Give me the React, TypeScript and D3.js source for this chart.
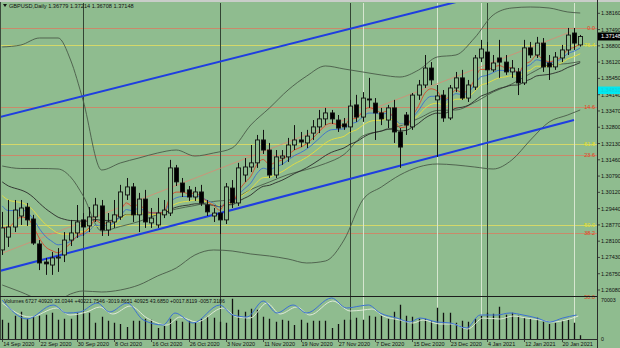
import React from "react";
import * as d3 from "d3";

const W = 620;
const H = 348;

// ---------- DATA ----------
const opens = [
  1.2783, 1.2839, 1.2883, 1.2931, 1.297, 1.2918, 1.2809, 1.273, 1.2717, 1.2748,
  1.2761, 1.2826, 1.2857, 1.2914, 1.2888, 1.2927, 1.2975, 1.287, 1.2905, 1.2927,
  1.3023, 1.3058, 1.2936, 1.3005, 1.2901, 1.2892, 1.2936, 1.2944, 1.3141, 1.3075,
  1.3045, 1.3014, 1.3036, 1.2979, 1.2931, 1.2944, 1.2914, 1.3053, 1.2988, 1.311,
  1.3145, 1.3163, 1.3263, 1.3219, 1.311, 1.3184, 1.3189, 1.3241, 1.3263, 1.325,
  1.3293, 1.332, 1.3355, 1.3381, 1.335, 1.3333, 1.332, 1.3416, 1.3363, 1.3442,
  1.3424, 1.3381, 1.335, 1.3403, 1.3298, 1.3372, 1.332, 1.3459, 1.3503, 1.3577,
  1.3438, 1.3459, 1.3359, 1.349, 1.3534, 1.3446, 1.3494, 1.3621, 1.3647, 1.3569,
  1.3621, 1.3603, 1.356, 1.356, 1.3512, 1.3665, 1.3634, 1.3686, 1.3599, 1.3582,
  1.3621, 1.3656, 1.373, 1.36779,
];
const highs = [
  1.2949, 1.3001, 1.3001, 1.3001, 1.2988, 1.2936, 1.2826, 1.2748, 1.2774, 1.2791,
  1.2861, 1.2914, 1.2979, 1.2944, 1.297, 1.301, 1.3001, 1.2944, 1.3001, 1.3067,
  1.3097, 1.3075, 1.3032, 1.3045, 1.2966, 1.301, 1.3001, 1.3176, 1.3154, 1.3097,
  1.3062, 1.3058, 1.3067, 1.3001, 1.2966, 1.2979, 1.3075, 1.3088, 1.3163, 1.3184,
  1.3241, 1.3285, 1.3307, 1.325, 1.3219, 1.3219, 1.3272, 1.3328, 1.3298, 1.3307,
  1.335, 1.3394, 1.3403, 1.3394, 1.3372, 1.3359, 1.3438, 1.346, 1.3472, 1.3534,
  1.3446, 1.3403, 1.3416, 1.3438, 1.3315, 1.3385, 1.3468, 1.3525, 1.3634, 1.3603,
  1.3503, 1.3481, 1.3503, 1.356, 1.3569, 1.3525, 1.3634, 1.37, 1.3691, 1.3634,
  1.37, 1.3634, 1.3612, 1.3577, 1.37, 1.3691, 1.3713, 1.3708, 1.3634, 1.3647,
  1.3678, 1.3752, 1.3752, 1.37214,
];
const lows = [
  1.2761, 1.2796, 1.2861, 1.2892, 1.2888, 1.2805, 1.2695, 1.2674, 1.2674, 1.2687,
  1.273, 1.28, 1.2835, 1.2844, 1.2861, 1.2905, 1.2844, 1.2844, 1.2879, 1.2914,
  1.3001, 1.2905, 1.2861, 1.2879, 1.2879, 1.2879, 1.2922, 1.2931, 1.3062, 1.3014,
  1.2997, 1.2997, 1.2975, 1.2931, 1.2905, 1.2853, 1.2896, 1.2966, 1.2975, 1.308,
  1.3123, 1.3141, 1.3202, 1.3097, 1.3097, 1.3154, 1.3167, 1.3219, 1.3232, 1.3228,
  1.3263, 1.3293, 1.3328, 1.3333, 1.3298, 1.3307, 1.3298, 1.3342, 1.3342, 1.3403,
  1.3263, 1.3328, 1.3315, 1.325, 1.3141, 1.3285, 1.3307, 1.3438, 1.349, 1.3503,
  1.3189, 1.3342, 1.335, 1.3472, 1.3438, 1.3429, 1.3481, 1.3603, 1.3503, 1.356,
  1.3534, 1.3547, 1.3534, 1.3459, 1.3503, 1.3621, 1.3621, 1.356, 1.3525, 1.3569,
  1.3603, 1.3634, 1.3656, 1.36708,
];
const closes = [
  1.2879, 1.2883, 1.2957, 1.2966, 1.2914, 1.2813, 1.2726, 1.2722, 1.2748, 1.2752,
  1.2826, 1.2857, 1.2905, 1.2883, 1.2927, 1.2979, 1.287, 1.2905, 1.2936, 1.3036,
  1.3058, 1.2936, 1.3005, 1.2905, 1.2922, 1.2944, 1.2957, 1.3141, 1.308, 1.3036,
  1.3014, 1.3036, 1.2988, 1.2949, 1.2944, 1.2914, 1.3058, 1.2988, 1.3141, 1.3145,
  1.3163, 1.3263, 1.3219, 1.311, 1.3189, 1.3193, 1.3241, 1.3263, 1.3254, 1.328,
  1.332, 1.3355, 1.3381, 1.3355, 1.3315, 1.332, 1.3411, 1.3363, 1.3446, 1.3438,
  1.3381, 1.3355, 1.3403, 1.3298, 1.3232, 1.3328, 1.3459, 1.3503, 1.3577, 1.3525,
  1.3455, 1.3359, 1.349, 1.3534, 1.3446, 1.3503, 1.3621, 1.366, 1.3569, 1.3599,
  1.3603, 1.356, 1.3577, 1.3512, 1.3665, 1.3634, 1.3686, 1.3582, 1.3582, 1.3625,
  1.3656, 1.3721, 1.3686, 1.37148,
];
const volumes = [
  34200, 28800, 41400, 48600, 36000, 39600, 41400, 43200, 46800, 34200,
  36000, 36000, 46800, 46800, 46800, 28800, 39600, 32400, 28800, 27000,
  21600, 32400, 32400, 36000, 34200, 19800, 23400, 36000, 32400, 30600,
  32400, 28800, 36000, 39600, 37800, 30600, 28800, 72000, 52200, 48600,
  54000, 52200, 39600, 36000, 30600, 34200, 32400, 25200, 34200, 28800,
  32400, 32400, 32400, 19800, 27000, 34200, 34200, 37800, 34200, 41400,
  39600, 41400, 36000, 48600, 61200, 41400, 39600, 36000, 36000, 32400,
  55800, 46800, 46800, 28800, 32400, 30600, 36000, 41400, 46800, 45000,
  57600, 43200, 46800, 41400, 37800, 36000, 37800, 30600, 27000, 28800,
  32400, 34200, 28800, 6727,
];

const dateLabels = [
  "14 Sep 2020", "22 Sep 2020", "30 Sep 2020", "8 Oct 2020", "16 Oct 2020",
  "26 Oct 2020", "3 Nov 2020", "11 Nov 2020", "19 Nov 2020", "27 Nov 2020",
  "7 Dec 2020", "15 Dec 2020", "23 Dec 2020", "4 Jan 2021", "12 Jan 2021",
  "20 Jan 2021",
];
const dateLabelIdx = [0, 6, 12, 18, 24, 30, 36, 42, 48, 54, 60, 66, 72, 78, 84, 90];

const priceTickLabels = [
  "1.38160", "1.37490", "1.36800", "1.36120", "1.35450", "1.34140", "1.33470",
  "1.32800", "1.32130", "1.31460", "1.30790", "1.30120", "1.29440", "1.28770",
  "1.28100", "1.27430", "1.26750", "1.26080",
];

const separatorIdx = [13, 35, 56, 78];
const markerIdx = [58, 70, 77, 92];

// Bollinger bands read at common bar indices
const bandIdx = [0, 3, 6, 9, 11, 13, 16, 19, 22, 25, 28, 31, 34, 37, 40, 43, 46, 49, 52, 55, 58, 61, 64, 67, 70, 73, 76, 79, 82, 85, 88, 91, 93];
const bandUpper = [
  1.36689, 1.36776, 1.37082, 1.37082, 1.36122, 1.34375, 1.31319, 1.31625, 1.31843,
  1.32061, 1.32192, 1.3193, 1.32061, 1.3228, 1.33284, 1.34026, 1.34812, 1.35422,
  1.3586, 1.35729, 1.35598, 1.35467, 1.35379, 1.35685, 1.36253, 1.3634, 1.37082,
  1.38086, 1.38392, 1.38435, 1.38392, 1.38217, 1.38173,
];
const bandLower = [
  1.26299, 1.25993, 1.25687, 1.25644, 1.25906, 1.26037, 1.25993, 1.2608, 1.26299,
  1.26692, 1.27041, 1.27608, 1.27827, 1.27783, 1.27652, 1.27565, 1.27433, 1.27259,
  1.27346, 1.28263, 1.3001, 1.30577, 1.31101, 1.3145, 1.31581, 1.31537, 1.3145,
  1.31363, 1.31756, 1.32629, 1.33415, 1.33721, 1.33939,
];

// moving averages: periods and starting values read at the left edge
const emaPeriods = [21, 13, 8, 5];
const emaSeeds = [1.308, 1.302, 1.2975, 1.288];

// drawn objects [barIndex, price]
const channelUpper: [number, number][] = [[-0.4, 1.33633], [72.4, 1.3861], [93, 1.4002]];
const channelLower: [number, number][] = [[-0.4, 1.2691], [92, 1.33502]];
const trendRed: [number, number][] = [[0.1, 1.27696], [91.4, 1.37344]];

const fibLow = 1.1409;
const redFibHigh = 1.375;
const yellowFibHigh = 1.4377;
const redFibLevels = [0, 14.6, 23.6, 38.2, 50.0];
const yellowFibLevels = [50.0, 61.8, 76.4];
const cyanLevel = 1.3481;

// subwindow lines [barIndex, value]
const volBlue: [number, number][] = [
  [0, 69643], [4, 35714], [8.2, 60714], [10.4, 46429], [12.5, 48214], [15.3, 64286],
  [17.3, 48214], [20.1, 64286], [22.7, 33929], [25.9, 25000], [27.8, 46429],
  [30.7, 28571], [35, 60714], [37.1, 42857], [39.4, 39286], [42, 67857], [44.2, 46429],
  [46.8, 60714], [49, 46429], [53, 73214], [55.4, 55357], [57.6, 58929], [58.9, 60714],
  [60.8, 46429], [63.5, 37500], [65.6, 30357], [67.2, 37500], [69.9, 30357],
  [72.1, 28571], [74.7, 19643], [76.9, 42857], [79.6, 42857], [81.7, 46429],
  [83.8, 42857], [86, 37500], [88.1, 30357], [90.2, 37500], [92.4, 42857],
];
const volWhite: [number, number][] = [
  [0, 64286], [4.5, 39286], [8.8, 55357], [10.9, 42857], [13.6, 48214], [15.7, 57143],
  [17.8, 44643], [20.6, 58929], [23.3, 37500], [26.5, 25000], [28.6, 39286],
  [31.3, 30357], [35.5, 55357], [37.8, 39286], [39.9, 37500], [42.6, 64286],
  [44.7, 44643], [47.4, 57143], [49.5, 42857], [53.2, 67857], [56, 50000],
  [58.1, 51786], [59.5, 53571], [61.3, 41071], [64, 33929], [66.1, 28571],
  [67.7, 33929], [70.4, 26786], [72.5, 26786], [74.9, 17857], [77.4, 37500],
  [80.1, 35714], [82.2, 41071], [84.3, 37500], [86.5, 33929], [88.6, 30357],
  [90.7, 33929], [92.7, 41071],
];

const titleText = "GBPUSD,Daily  1.36779 1.37214 1.36708 1.37148";
const volTitle = "Volumes 6727   40920 33.0344 +40221.7546 -3019.8651  40925 43.6850 +0017.8119 -0057.3186";
const volMaxLabel = "70003";
const currentPrice = "1.37148";

// ---------- LAYOUT ----------
const AX = 597.5;
const MAIN_T = 3;
const MAIN_B = 296;
const VOL_B = 339;
const BG = "#8fbc8f";
const FONT = "'Liberation Sans', Arial, sans-serif";

export default function App() {
  const x = d3.scaleLinear().domain([0, 93]).range([2.2, 580.2]);
  const y = d3.scaleLinear().domain([1.2608, 1.3816]).range([290, 13.3]);
  const yv = d3.scaleLinear().domain([0, 75000]).range([VOL_B, 297]);

  const n = closes.length;
  const idx = d3.range(n);

  const emas = emaPeriods.map((p, k) => {
    const a = 2 / (p + 1);
    const out: number[] = [];
    let e = emaSeeds[k];
    for (let i = 0; i < n; i++) {
      if (i > 0) e = e + a * (closes[i] - e);
      out.push(e);
    }
    return out;
  });
  const emaColors = ["#2a2a2a", "#e8e040", "#3a6fd0", "#d8482a"];

  const lineP = d3.line<[number, number]>().x((d) => x(d[0])).y((d) => y(d[1]));
  const curveP = d3
    .line<[number, number]>()
    .x((d) => x(d[0]))
    .y((d) => y(d[1]))
    .curve(d3.curveMonotoneX);
  const curveV = d3
    .line<[number, number]>()
    .x((d) => x(d[0]))
    .y((d) => yv(d[1]))
    .curve(d3.curveMonotoneX);

  const upperPts = bandIdx.map((b, i) => [b, bandUpper[i]] as [number, number]);
  const lowerPts = bandIdx.map((b, i) => [b, bandLower[i]] as [number, number]);
  const midPts = bandIdx.map((b, i) => [b, (bandUpper[i] + bandLower[i]) / 2] as [number, number]);

  const redLevels = redFibLevels.map((l) => ({ l, p: redFibHigh - (l / 100) * (redFibHigh - fibLow) }));
  const yelLevels = yellowFibLevels.map((l) => ({ l, p: fibLow + (l / 100) * (yellowFibHigh - fibLow) }));

  const tickStep = (1.3816 - 1.2608) / (priceTickLabels.length - 1);

  return (
    <svg width={W} height={H} style={{ display: "block", position: "absolute", left: 0, top: 0, background: BG }} fontFamily={FONT}>
      <defs>
        <clipPath id="mainClip">
          <rect x={1} y={MAIN_T} width={AX - 1} height={MAIN_B - MAIN_T} />
        </clipPath>
        <clipPath id="volClip">
          <rect x={1} y={MAIN_B + 1} width={AX - 1} height={VOL_B - MAIN_B - 1} />
        </clipPath>
      </defs>
      <rect x={0} y={0} width={W} height={H} fill={BG} />
      <rect x={0} y={0} width={W} height={2} fill="#c9cdc9" />
      <line x1={0.5} x2={0.5} y1={2} y2={VOL_B} stroke="#3c4c3c" strokeWidth={1} />

      {/* fib levels */}
      <g clipPath="url(#mainClip)">
        {redLevels.map((d) => (
          <line key={"rf" + d.l} x1={1} x2={AX} y1={Math.round(y(d.p)) + 0.5} y2={Math.round(y(d.p)) + 0.5} stroke="#c98a6a" strokeWidth={1} />
        ))}
        {yelLevels.map((d) => (
          <line key={"yf" + d.l} x1={1} x2={AX} y1={Math.round(y(d.p)) + 0.5} y2={Math.round(y(d.p)) + 0.5} stroke="#d4d86a" strokeWidth={1} />
        ))}
      </g>

      {/* vertical lines */}
      {separatorIdx.map((i) => (
        <line key={"s" + i} x1={Math.round(x(i)) + 0.5} x2={Math.round(x(i)) + 0.5} y1={MAIN_T} y2={VOL_B} stroke="#334433" strokeWidth={1} />
      ))}
      {markerIdx.map((i) => (
        <line key={"m" + i} x1={Math.round(x(i)) + 0.5} x2={Math.round(x(i)) + 0.5} y1={MAIN_T} y2={VOL_B} stroke="#d6e6d0" strokeWidth={1} />
      ))}

      <g clipPath="url(#mainClip)">
        {/* bollinger */}
        <path d={curveP(upperPts) || ""} fill="none" stroke="#4a5a48" strokeWidth={0.9} />
        <path d={curveP(lowerPts) || ""} fill="none" stroke="#4a5a48" strokeWidth={0.9} />
        <path d={curveP(midPts) || ""} fill="none" stroke="#4a5a48" strokeWidth={0.9} />
        {/* trend lines */}
        <path d={lineP(trendRed) || ""} fill="none" stroke="#d98a74" strokeWidth={0.8} />
        <path d={lineP(channelUpper) || ""} fill="none" stroke="#1f3ee0" strokeWidth={2} />
        <path d={lineP(channelLower) || ""} fill="none" stroke="#1f3ee0" strokeWidth={2} />
        {/* moving averages */}
        {emas.map((e, k) => (
          <path
            key={"ema" + k}
            d={curveP(e.map((v, i) => [i, v] as [number, number])) || ""}
            fill="none"
            stroke={emaColors[k]}
            strokeWidth={0.9}
          />
        ))}
        {/* candles */}
        {idx.map((i) => {
          const cx = Math.round(x(i)) + 0.5;
          const up = closes[i] >= opens[i];
          const top = y(Math.max(opens[i], closes[i]));
          const bot = y(Math.min(opens[i], closes[i]));
          return (
            <g key={"c" + i}>
              <line x1={cx} x2={cx} y1={y(highs[i])} y2={y(lows[i])} stroke="#111" strokeWidth={1} />
              <rect
                x={cx - 2}
                y={top}
                width={4}
                height={Math.max(1, bot - top)}
                fill={up ? BG : "#000"}
                stroke="#111"
                strokeWidth={0.9}
              />
            </g>
          );
        })}
      </g>

      {/* title */}
      <path d="M3,4 L7,4 L5,7 Z" fill="#111" />
      <text x={9} y={8} fontSize={5.6} fill="#111">{titleText}</text>

      {/* fib labels */}
      {redLevels.map((d) => (
        <text key={"rl" + d.l} x={595} y={y(d.p) + 2} fontSize={5.5} fill="#e0401c" textAnchor="end">{d.l.toFixed(1)}</text>
      ))}
      {yelLevels.map((d) => (
        <text key={"yl" + d.l} x={595} y={y(d.p) + 2} fontSize={5.5} fill="#e8e020" textAnchor="end">{d.l.toFixed(1)}</text>
      ))}

      {/* panels separators */}
      <line x1={0} x2={AX} y1={MAIN_B + 0.5} y2={MAIN_B + 0.5} stroke="#1c1c1c" strokeWidth={1.2} />
      <line x1={0} x2={AX} y1={VOL_B + 0.5} y2={VOL_B + 0.5} stroke="#2c2c2c" strokeWidth={1} />
      <line x1={AX} x2={AX} y1={0} y2={H} stroke="#2c2c2c" strokeWidth={1} />

      {/* volume */}
      <g clipPath="url(#volClip)">
        {idx.map((i) => (
          <line key={"v" + i} x1={Math.round(x(i)) + 0.5} x2={Math.round(x(i)) + 0.5} y1={yv(0)} y2={yv(volumes[i])} stroke="#111" strokeWidth={1.3} />
        ))}
        <path d={curveV(volWhite) || ""} fill="none" stroke="#e6eee0" strokeWidth={0.9} />
        <path d={curveV(volBlue) || ""} fill="none" stroke="#3c70d4" strokeWidth={1} />
      </g>
      <text x={4} y={303} fontSize={5.2} fill="#111">{volTitle}</text>
      <text x={601} y={302} fontSize={5.3} fill="#111">{volMaxLabel}</text>
      <text x={601} y={341} fontSize={5.3} fill="#111">0</text>

      {/* price axis */}
      {priceTickLabels.map((t, k) => {
        const p = 1.3816 - k * tickStep;
        return (
          <g key={"pt" + t}>
            <line x1={AX} x2={AX + 2.5} y1={y(p)} y2={y(p)} stroke="#2c2c2c" strokeWidth={0.8} />
            <text x={601} y={y(p) + 2} fontSize={5.5} fill="#111">{t}</text>
          </g>
        );
      })}
      <rect x={AX + 0.5} y={y(cyanLevel) - 3.5} width={W - AX} height={7.5} fill="#00e8f0" />
      <text x={601} y={y(cyanLevel) + 2} fontSize={5.5} fill="#10d0d8">1.34810</text>
      <rect x={AX + 0.5} y={y(1.37148) - 4} width={W - AX} height={8} fill="#000" />
      <text x={601} y={y(1.37148) + 2} fontSize={5.5} fill="#fff">{currentPrice}</text>

      {/* date axis */}
      {dateLabelIdx.map((i, k) => (
        <g key={"d" + i}>
          <line x1={Math.round(x(i)) + 0.5} x2={Math.round(x(i)) + 0.5} y1={VOL_B} y2={VOL_B + 3} stroke="#2c2c2c" strokeWidth={0.8} />
          <text x={x(i) + 1} y={346} fontSize={5.5} fill="#111">{dateLabels[k]}</text>
        </g>
      ))}
    </svg>
  );
}
